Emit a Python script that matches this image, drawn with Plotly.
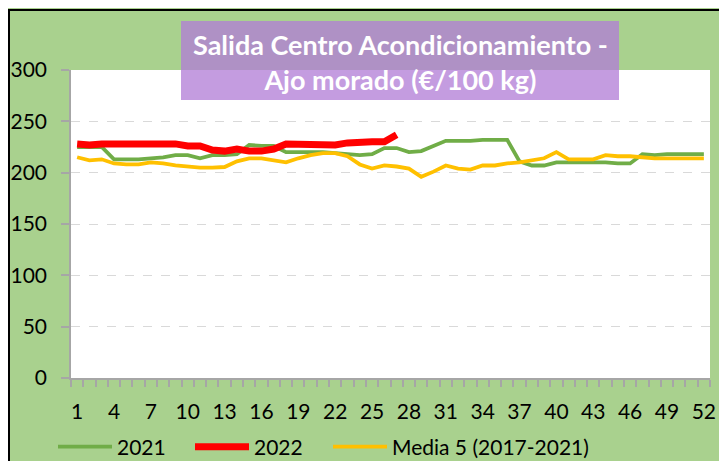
import plotly.graph_objects as go

weeks = list(range(1, 53))

serie_2021 = [225, 225, 225, 213, 213, 213, 214, 215, 217, 217,
              214, 217, 217, 218, 227, 226, 226, 220, 220, 220,
              220, 219, 218, 217, 218, 224, 224, 220, 221, 226,
              231, 231, 231, 232, 232, 232, 211, 207, 207, 210,
              210, 210, 210, 210, 209, 209, 218, 217, 218, 218,
              218, 218]

serie_2022 = [228, 227, 228, 228, 228, 228, 228, 228, 228, 226,
              226, 222, 221, 223, 221, 221, 223, 228, 228, 228,
              228, 227, 229, 230, 230, 230, 237]

media_5 = [215, 212, 213, 209, 208, 208, 210, 209, 207, 206,
           205, 205, 205.5, 211, 214, 214, 212, 210, 214, 217,
           219, 219, 216, 208, 204, 207, 206, 204, 196, 201,
           207, 204, 203, 207, 207, 209, 210, 212, 214, 220,
           213, 213, 213, 217, 216, 216, 215, 214, 214, 214,
           214, 214]

x_ticks = list(range(1, 53, 3))
y_ticks = [0, 50, 100, 150, 200, 250, 300]

title_lines = ["Salida Centro Acondicionamiento -", "Ajo morado (€/100 kg)"]
names = ["2021", "2022", "Media 5 (2017-2021)"]

FONT = "Lato"

fig = go.Figure()
fig.add_trace(go.Scatter(x=weeks, y=serie_2021, mode="lines", name=names[0], legend="legend",
                         line=dict(color="#70AD47", width=3.8)))
fig.add_trace(go.Scatter(x=weeks[:len(serie_2022)], y=serie_2022, mode="lines", name=names[1],
                         legend="legend2", line=dict(color="#FF0000", width=7)))
fig.add_trace(go.Scatter(x=weeks, y=media_5, mode="lines", name=names[2], legend="legend3",
                         line=dict(color="#FFC000", width=3.8)))

# page offset of 8px (body margin); figure coords = page coords - 8
OFF = 8
W, H = 727 - OFF, 461 - OFF
L, T = 71 - OFF, 70 - OFF
R = W - (710 - OFF)
B = H - (378 - OFF)
pw, ph = W - L - R, H - T - B

def px2x(px):
    return (px - OFF - L) / pw

def py2y(py):
    return (H + OFF - B - py) / ph

def legend_at(px):
    return dict(orientation="h", xref="container", yref="container",
                x=(px - OFF) / W, xanchor="left", y=(H - (447 - OFF)) / H, yanchor="middle",
                bgcolor="rgba(0,0,0,0)", font=dict(family=FONT, size=21, color="#000000"),
                itemwidth=54)

fig.update_layout(
    width=W, height=H,
    margin=dict(l=L, r=R, t=T, b=B, autoexpand=False),
    paper_bgcolor="#A9D18E",
    plot_bgcolor="#FFFFFF",
    font=dict(family=FONT, size=19, color="#000000"),
    showlegend=True,
    legend=legend_at(53),
    legend2=legend_at(190),
    legend3=legend_at(328),
    xaxis=dict(range=[0.5, 52.5], tickmode="array", tickvals=x_ticks,
               ticktext=[str(v) for v in x_ticks], ticks="",
               showgrid=False, zeroline=False, showline=True, linecolor="#A6A6A6", linewidth=1.5,
               minor=dict(ticks="outside", tick0=0.5, dtick=1, ticklen=7, tickcolor="#A6A6A6",
                          tickwidth=1.5, showgrid=False),
               ticklabelstandoff=14,
               tickfont=dict(family=FONT, size=21), fixedrange=True),
    yaxis=dict(range=[0, 300], tickmode="array", tickvals=y_ticks,
               showgrid=True, gridcolor="#D9D9D9", griddash="dash", gridwidth=1,
               zeroline=False, showline=True, linecolor="#A6A6A6", linewidth=1.5,
               ticks="outside", ticklen=8, tickcolor="#A6A6A6", tickwidth=1.5,
               ticklabelstandoff=10,
               tickfont=dict(family=FONT, size=21), fixedrange=True),
)

# black frame of the chart area (left and top edges visible)
fig.add_shape(type="rect", xref="paper", yref="paper", x0=px2x(9), x1=px2x(760), y0=py2y(490), y1=py2y(10),
              fillcolor="rgba(0,0,0,0)", line=dict(color="#000000", width=2), layer="above")

# title box
fig.add_shape(type="rect", xref="paper", yref="paper", x0=px2x(181), x1=px2x(619), y0=py2y(100), y1=py2y(21),
              fillcolor="#B27DD6", opacity=0.76, line=dict(width=0), layer="above")
fig.add_annotation(xref="paper", yref="paper", x=px2x(400), y=py2y(62), xanchor="center", yanchor="middle",
                   text="<b>" + title_lines[0] + "<br>" + title_lines[1] + "</b>", showarrow=False,
                   font=dict(family=FONT, size=27, color="#FFFFFF"), align="center")

fig.write_html("out.html")
